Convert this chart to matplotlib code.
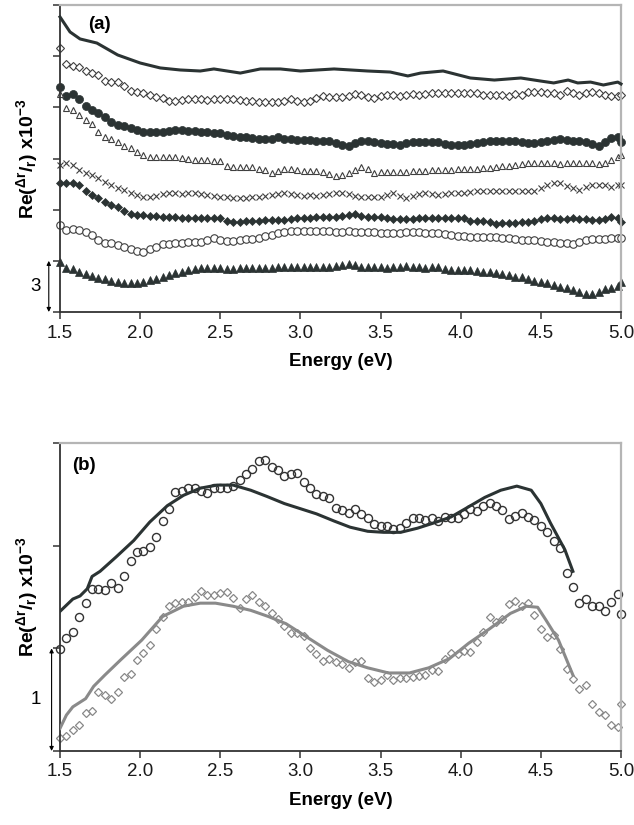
import numpy as np
import matplotlib
matplotlib.use("Agg")
import matplotlib.pyplot as plt

plt.rcParams['font.family'] = ['Liberation Sans', 'DejaVu Sans']
plt.rcParams['mathtext.fontset'] = 'custom'
plt.rcParams['mathtext.rm'] = 'Liberation Sans:bold'
plt.rcParams['mathtext.it'] = 'Liberation Sans:bold'
plt.rcParams['mathtext.bf'] = 'Liberation Sans:bold'

# ---------------- data ----------------
energy = [round(1.5 + 0.04 * k, 2) for k in range(88)] + [5.0]

# panel (a) solid curve
a_line_e = [1.50, 1.5625, 1.625, 1.73, 1.86, 2.00, 2.125, 2.25, 2.375, 2.46, 2.625, 2.75,
            2.875, 3.00, 3.21, 3.42, 3.56, 3.67, 3.75, 3.89, 4.06, 4.21, 4.375, 4.50,
            4.58, 4.67, 4.73, 4.81, 4.89, 4.98, 5.00]
a_line_v = [17.30, 16.42, 16.01, 15.77, 15.07, 14.60, 14.31, 14.19, 14.13, 14.25, 14.01, 14.25,
            14.25, 14.13, 14.25, 14.13, 14.07, 13.84, 14.01, 14.13, 13.72, 13.60, 13.72, 13.54,
            13.43, 13.60, 13.43, 13.48, 13.31, 13.48, 13.37]

a_open_diamond = [15.46, 14.54, 14.44, 14.35, 14.15, 13.99, 13.90, 13.56, 13.50, 13.50,
                  13.27, 12.96, 12.88, 12.82, 12.72, 12.62, 12.53, 12.39, 12.39, 12.43,
                  12.47, 12.47, 12.47, 12.45, 12.47, 12.47, 12.47, 12.47, 12.43, 12.39, 12.39,
                  12.33, 12.33, 12.30, 12.29, 12.39, 12.47, 12.38, 12.33, 12.39, 12.53,
                  12.66, 12.62, 12.62, 12.62, 12.68, 12.77, 12.72, 12.62, 12.57, 12.66,
                  12.72, 12.72, 12.68, 12.72, 12.77, 12.72, 12.77, 12.82, 12.86, 12.82,
                  12.82, 12.84, 12.84, 12.86, 12.86, 12.72, 12.75, 12.72, 12.75, 12.68, 12.77,
                  12.72, 12.88, 12.88, 12.91, 12.82, 12.82, 12.72, 12.97, 12.82, 12.75,
                  12.86, 12.88, 12.82, 12.72, 12.66, 12.66, 12.72]

a_filled_circle = [13.21, 12.66, 12.76, 12.47, 12.10, 11.84, 11.65, 11.42, 11.12, 10.96,
                   10.92, 10.77, 10.67, 10.57, 10.57, 10.54, 10.57, 10.61, 10.67, 10.67,
                   10.63, 10.60, 10.57, 10.54, 10.50, 10.52, 10.38, 10.33, 10.28, 10.26, 10.22,
                   10.14, 10.13, 10.14, 10.24, 10.16, 10.13, 10.10, 10.08, 10.08, 10.05,
                   10.04, 10.03, 9.89, 9.79, 9.73, 9.89, 10.04, 10.04, 9.98, 9.89,
                   9.85, 9.85, 9.77, 9.89, 9.98, 9.98, 9.98, 9.95, 9.98, 9.85,
                   9.79, 9.79, 9.79, 9.85, 9.89, 9.98, 10.00, 10.03, 10.03, 10.03, 10.02,
                   9.98, 9.93, 9.89, 9.95, 10.03, 10.08, 10.13, 10.08, 10.03, 10.03,
                   9.95, 9.85, 9.75, 9.95, 10.18, 10.28, 9.98]

a_open_triangle = [12.76, 11.94, 11.84, 11.55, 11.26, 11.02, 10.57, 10.28, 10.14, 9.98,
                   9.73, 9.60, 9.40, 9.20, 9.11, 9.11, 9.11, 9.11, 9.11, 9.05,
                   8.97, 8.94, 8.91, 8.91, 8.88, 8.85, 8.56, 8.52, 8.50, 8.50, 8.50,
                   8.40, 8.30, 8.15, 8.28, 8.38, 8.38, 8.33, 8.28, 8.28, 8.26,
                   8.23, 8.12, 8.00, 8.06, 8.15, 8.35, 8.48, 8.38, 8.13, 8.19,
                   8.22, 8.22, 8.22, 8.22, 8.25, 8.25, 8.25, 8.30, 8.30, 8.32,
                   8.35, 8.36, 8.38, 8.40, 8.40, 8.42, 8.45, 8.52, 8.56, 8.58, 8.62,
                   8.68, 8.72, 8.75, 8.75, 8.75, 8.72, 8.68, 8.72, 8.72, 8.72,
                   8.75, 8.75, 8.66, 8.72, 8.91, 9.11, 9.21]

a_cross = [8.62, 8.75, 8.62, 8.33, 8.13, 8.03, 7.84, 7.64, 7.45, 7.25,
           7.15, 6.99, 6.85, 6.76, 6.72, 6.80, 6.90, 6.96, 6.96, 6.94,
           6.96, 6.95, 6.93, 6.86, 6.80, 6.76, 6.72, 6.67, 6.70, 6.67, 6.72,
           6.76, 6.82, 6.88, 6.94, 6.96, 6.90, 6.84, 6.82, 6.84, 6.82,
           6.84, 6.90, 6.96, 6.99, 6.90, 6.80, 6.76, 6.72, 6.74, 6.76,
           6.86, 6.96, 6.82, 6.67, 6.78, 6.92, 6.96, 6.92, 6.88, 6.92,
           6.96, 6.96, 6.96, 7.05, 7.11, 7.11, 7.09, 7.11, 7.09, 7.11, 7.11,
           7.11, 7.11, 7.11, 7.25, 7.45, 7.58, 7.55, 7.39, 7.25, 7.15,
           7.31, 7.45, 7.45, 7.45, 7.35, 7.42, 7.45]

a_filled_diamond = [7.58, 7.58, 7.58, 7.45, 7.09, 6.86, 6.70, 6.47, 6.27, 6.14,
                    5.92, 5.74, 5.69, 5.69, 5.65, 5.63, 5.59, 5.59, 5.55, 5.49,
                    5.49, 5.49, 5.49, 5.49, 5.49, 5.49, 5.35, 5.29, 5.29, 5.31, 5.33,
                    5.35, 5.39, 5.39, 5.39, 5.39, 5.43, 5.49, 5.49, 5.53, 5.55,
                    5.55, 5.59, 5.59, 5.63, 5.69, 5.75, 5.65, 5.59, 5.59, 5.55,
                    5.49, 5.47, 5.47, 5.47, 5.47, 5.49, 5.51, 5.51, 5.49, 5.49,
                    5.49, 5.49, 5.49, 5.35, 5.33, 5.31, 5.29, 5.16, 5.20, 5.24, 5.24,
                    5.29, 5.29, 5.35, 5.43, 5.49, 5.49, 5.47, 5.43, 5.49, 5.47,
                    5.43, 5.41, 5.39, 5.47, 5.59, 5.49, 5.29]

a_open_circle = [5.10, 4.81, 4.87, 4.81, 4.71, 4.51, 4.22, 4.06, 4.03, 3.93,
                 3.79, 3.68, 3.59, 3.54, 3.68, 3.83, 3.97, 3.97, 4.03, 4.06,
                 4.09, 4.10, 4.12, 4.22, 4.32, 4.22, 4.18, 4.18, 4.22, 4.26, 4.26,
                 4.34, 4.46, 4.51, 4.61, 4.71, 4.75, 4.75, 4.75, 4.75, 4.75,
                 4.75, 4.73, 4.71, 4.71, 4.73, 4.71, 4.71, 4.71, 4.68, 4.65,
                 4.61, 4.61, 4.65, 4.71, 4.71, 4.68, 4.65, 4.61, 4.65, 4.58,
                 4.51, 4.48, 4.45, 4.38, 4.38, 4.38, 4.38, 4.38, 4.36, 4.32, 4.28,
                 4.22, 4.22, 4.20, 4.15, 4.12, 4.10, 4.06, 4.03, 3.99, 4.12,
                 4.22, 4.26, 4.26, 4.28, 4.32, 4.32, 4.32]

a_filled_triangle = [2.95, 2.56, 2.52, 2.36, 2.23, 2.13, 1.98, 1.93, 1.84, 1.74,
                     1.68, 1.68, 1.72, 1.78, 1.88, 1.93, 2.03, 2.17, 2.27, 2.36,
                     2.46, 2.52, 2.56, 2.56, 2.56, 2.56, 2.52, 2.52, 2.56, 2.56, 2.56,
                     2.56, 2.56, 2.56, 2.62, 2.66, 2.66, 2.66, 2.66, 2.66, 2.66,
                     2.66, 2.66, 2.71, 2.75, 2.81, 2.75, 2.62, 2.62, 2.62, 2.62,
                     2.56, 2.66, 2.66, 2.70, 2.66, 2.62, 2.56, 2.62, 2.66, 2.52,
                     2.46, 2.46, 2.46, 2.46, 2.42, 2.36, 2.36, 2.27, 2.23, 2.15, 2.08,
                     2.03, 1.95, 1.84, 1.78, 1.72, 1.58, 1.45, 1.39, 1.29, 1.15,
                     1.06, 1.06, 1.19, 1.33, 1.42, 1.55, 1.78]

# panel (b)
b_circle = [0.99, 1.10, 1.16, 1.31, 1.44, 1.58, 1.58, 1.57, 1.64, 1.59,
            1.70, 1.85, 1.94, 1.95, 1.99, 2.08, 2.24, 2.36, 2.52, 2.53,
            2.56, 2.56, 2.53, 2.51, 2.56, 2.56, 2.56, 2.58, 2.64, 2.70,
            2.75, 2.82, 2.83, 2.77, 2.74, 2.68, 2.70, 2.71, 2.62, 2.56,
            2.50, 2.48, 2.46, 2.37, 2.35, 2.32, 2.36, 2.31, 2.27, 2.21,
            2.19, 2.19, 2.16, 2.17, 2.22, 2.27, 2.27, 2.25, 2.27, 2.24,
            2.28, 2.27, 2.27, 2.31, 2.36, 2.34, 2.39, 2.42, 2.39, 2.35,
            2.26, 2.29, 2.32, 2.28, 2.25, 2.19, 2.13, 2.05, 1.98, 1.73,
            1.60, 1.44, 1.48, 1.41, 1.41, 1.36, 1.45, 1.53, 1.33]

b_diamond = [0.13, 0.15, 0.20, 0.25, 0.37, 0.39, 0.57, 0.55, 0.51, 0.57,
             0.72, 0.75, 0.89, 0.95, 1.03, 1.19, 1.31, 1.41, 1.44, 1.45,
             1.45, 1.50, 1.56, 1.52, 1.52, 1.54, 1.55, 1.49, 1.39, 1.48,
             1.52, 1.45, 1.41, 1.34, 1.29, 1.22, 1.15, 1.15, 1.12, 1.00,
             0.94, 0.88, 0.90, 0.87, 0.85, 0.81, 0.87, 0.88, 0.71, 0.67,
             0.69, 0.74, 0.69, 0.71, 0.71, 0.72, 0.73, 0.74, 0.79, 0.78,
             0.90, 0.95, 0.94, 0.97, 0.96, 1.06, 1.16, 1.31, 1.26, 1.29,
             1.43, 1.46, 1.41, 1.44, 1.32, 1.19, 1.11, 1.13, 0.99, 0.80,
             0.70, 0.60, 0.64, 0.46, 0.38, 0.35, 0.25, 0.23, 0.46]

b_upper_line_e = [1.50, 1.58, 1.625, 1.67, 1.70, 1.75, 1.85, 1.96, 2.06, 2.17, 2.27, 2.375,
                  2.48, 2.58, 2.69, 2.79, 2.90, 3.00, 3.10, 3.21, 3.31, 3.42, 3.52, 3.625,
                  3.73, 3.83, 3.94, 4.04, 4.15, 4.25, 4.35, 4.44, 4.50, 4.56, 4.65, 4.70]
b_upper_line_v = [1.36, 1.48, 1.51, 1.58, 1.70, 1.75, 1.89, 2.05, 2.23, 2.39, 2.49, 2.56,
                  2.59, 2.59, 2.54, 2.48, 2.41, 2.36, 2.31, 2.24, 2.18, 2.14, 2.13, 2.13,
                  2.17, 2.22, 2.28, 2.37, 2.47, 2.54, 2.58, 2.54, 2.41, 2.22, 1.96, 1.75]

b_lower_line_e = [1.50, 1.54, 1.58, 1.66, 1.71, 1.78, 1.88, 2.01, 2.14, 2.27, 2.375, 2.47,
                  2.58, 2.69, 2.80, 2.91, 3.04, 3.17, 3.30, 3.42, 3.55, 3.68, 3.80, 3.93,
                  4.05, 4.18, 4.31, 4.41, 4.48, 4.53, 4.61, 4.70]
b_lower_line_v = [0.22, 0.35, 0.43, 0.51, 0.63, 0.74, 0.89, 1.08, 1.31, 1.41, 1.44, 1.44,
                  1.41, 1.37, 1.31, 1.24, 1.11, 0.98, 0.87, 0.81, 0.76, 0.76, 0.81, 0.90,
                  1.05, 1.19, 1.34, 1.41, 1.40, 1.28, 1.08, 0.74]

x_ticks = [1.5, 2.0, 2.5, 3.0, 3.5, 4.0, 4.5, 5.0]
x_tick_labels = ["1.5", "2.0", "2.5", "3.0", "3.5", "4.0", "4.5", "5.0"]

# ---------------- figure ----------------
W, H = 634, 825
fig = plt.figure(figsize=(W / 100, H / 100), dpi=100)

def px_axes(left, top, right, bottom):
    return fig.add_axes([left / W, 1 - bottom / H, (right - left) / W, (bottom - top) / H])

axA = px_axes(60, 5, 621, 312)
axB = px_axes(60, 443, 621, 751)

dark = '#2b3333'
mid = '#3f3f3f'
grey = '#8a8a8a'

ylabel = r'Re($^{\mathrm{\Delta r}}$/$_{\mathrm{r}}$) x10$^{\mathrm{-3}}$'

def style(ax, yticks):
    ax.set_xlim(1.5, 5.0)
    ax.set_xticks(x_ticks)
    ax.set_xticklabels(x_tick_labels)
    ax.set_yticks(yticks)
    ax.set_yticklabels([])
    ax.tick_params(axis='both', direction='out', length=5, width=1.1, color='#333333')
    ax.tick_params(axis='x', labelsize=13.5, pad=4, labelcolor='#1a1a1a')
    for s in ['left', 'bottom']:
        ax.spines[s].set_color('#333333')
        ax.spines[s].set_linewidth(1.3)
    for s in ['top', 'right']:
        ax.spines[s].set_color('#b5b5b5')
        ax.spines[s].set_linewidth(1.6)
    ax.set_xlabel('Energy (eV)', fontsize=13.5, fontweight='bold', labelpad=8)
    ax.set_ylabel(ylabel, fontsize=14, fontweight='bold')
    ax.yaxis.set_label_coords(-0.036, 0.5)

# ---- panel (a)
axA.set_ylim(0, 18)
style(axA, [0, 3, 6, 9, 12, 15, 18])
axA.plot(a_line_e, a_line_v, color=dark, lw=2.2, clip_on=False, zorder=3)
axA.plot(energy, a_open_diamond, ls='none', marker='D', ms=3.8, mfc='white', mec=mid, mew=0.8, clip_on=False)
axA.plot(energy, a_filled_circle, ls='none', marker='o', ms=5.8, mfc=dark, mec=dark, mew=0.5, clip_on=False)
axA.plot(energy, a_open_triangle, ls='none', marker='^', ms=5.0, mfc='white', mec=mid, mew=0.8, clip_on=False)
axA.plot(energy, a_cross, ls='none', marker='x', ms=5.0, mec=mid, mew=0.8, clip_on=False)
axA.plot(energy, a_filled_diamond, ls='none', marker='D', ms=4.0, mfc=dark, mec=dark, mew=0.5, clip_on=False)
axA.plot(energy, a_open_circle, ls='none', marker='o', ms=5.4, mfc='white', mec=mid, mew=0.8, clip_on=False)
axA.plot(energy, a_filled_triangle, ls='none', marker='^', ms=5.6, mfc=dark, mec=dark, mew=0.5, clip_on=False)
axA.text(0.05, 0.935, '(a)', transform=axA.transAxes, fontsize=13.5, fontweight='bold', va='center', ha='left')

trA = axA.get_yaxis_transform()
axA.annotate('', xy=(-0.02, 0), xytext=(-0.02, 3), xycoords=trA, textcoords=trA,
             arrowprops=dict(arrowstyle='<|-|>', lw=0.8, color='black', mutation_scale=6,
                             shrinkA=0, shrinkB=0), annotation_clip=False)
axA.text(-0.043, 1.5, '3', transform=trA, fontsize=13.5, ha='center', va='center')

# ---- panel (b)
axB.set_ylim(0, 3)
style(axB, [0, 1, 2, 3])
axB.plot(b_upper_line_e, b_upper_line_v, color=dark, lw=2.2, zorder=3)
axB.plot(b_lower_line_e, b_lower_line_v, color=grey, lw=2.2, zorder=3)
axB.plot(energy, b_circle, ls='none', marker='o', ms=5.8, mfc='none', mec='#333333', mew=1.0, clip_on=False)
axB.plot(energy, b_diamond, ls='none', marker='D', ms=4.2, mfc='none', mec='#888888', mew=0.9, clip_on=False)
axB.text(0.021, 0.927, '(b)', transform=axB.transAxes, fontsize=13.5, fontweight='bold', va='center', ha='left')

trB = axB.get_yaxis_transform()
axB.annotate('', xy=(-0.015, 0), xytext=(-0.015, 1), xycoords=trB, textcoords=trB,
             arrowprops=dict(arrowstyle='<|-|>', lw=0.8, color='black', mutation_scale=6,
                             shrinkA=0, shrinkB=0), annotation_clip=False)
axB.text(-0.043, 0.5, '1', transform=trB, fontsize=13.5, ha='center', va='center')

fig.savefig('out.png', dpi=100)
